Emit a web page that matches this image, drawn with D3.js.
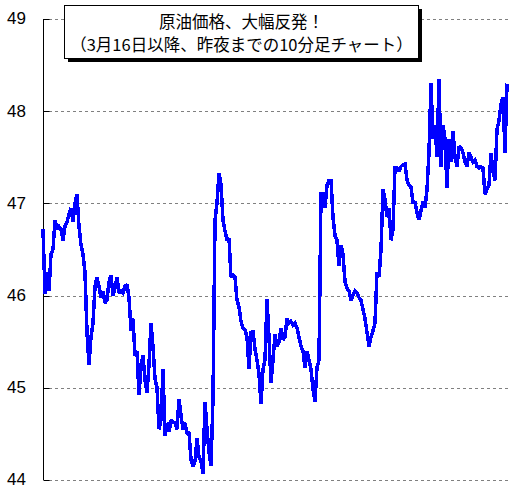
<!DOCTYPE html>
<html>
<head>
<meta charset="utf-8">
<script src="https://cdn.jsdelivr.net/npm/d3@7"></script>
<style>
  html, body { margin: 0; padding: 0; background: #fff; }
  svg { display: block; }
</style>
</head>
<body>
<svg id="chart" width="514" height="500"></svg>
<script>
const titleLines = ["原油価格、大幅反発！", "（3月16日以降、昨夜までの10分足チャート）"];
const yTicks = [44, 45, 46, 47, 48, 49];
const prices = [
  46.72, 46.02, 46.25, 46.05, 46.45, 46.5, 46.82, 46.72, 46.75, 46.72,
  46.6, 46.75, 46.8, 46.88, 46.95, 46.8, 47.0, 47.1, 46.75, 46.55,
  46.45, 46.25, 45.6, 45.25, 45.55, 45.7, 46.1, 46.2, 46.1, 45.98,
  46.05, 45.92, 45.95, 46.15, 46.22, 46.0, 46.08, 46.2, 46.03, 46.05,
  46.03, 46.1, 46.12, 45.98, 45.62, 45.75, 45.35, 45.4, 44.92, 45.25,
  45.35, 45.08, 44.95, 45.25, 45.7, 45.45, 45.1, 45.0, 44.55, 44.65,
  45.2, 44.48, 44.62, 44.52, 44.65, 44.63, 44.62, 44.55, 44.88, 44.7,
  44.55, 44.62, 44.5, 44.52, 44.22, 44.15, 44.2, 44.45, 44.25, 44.2,
  44.07, 44.85, 44.55, 44.3, 44.15, 44.88, 46.82, 47.0, 47.33, 47.2,
  46.82, 46.7, 46.6, 46.62, 46.2, 46.22, 46.2, 45.95, 45.88, 45.72,
  45.65, 45.63, 45.55, 45.2, 45.6, 45.62, 45.42, 45.3, 45.15, 44.82,
  45.2, 45.3, 45.96, 45.55, 45.05, 45.3, 45.58, 45.45, 45.5, 45.65,
  45.52, 45.55, 45.75, 45.7, 45.72, 45.68, 45.7, 45.65, 45.55, 45.45,
  45.4, 45.22, 45.4, 45.3, 45.2, 44.98, 44.85, 45.22, 45.3, 47.1,
  47.1, 46.95, 47.2, 47.25, 47.25, 46.85, 46.65, 46.6, 46.32, 46.55,
  46.45, 46.15, 46.08, 46.05, 45.95, 46.0, 46.05, 46.03, 45.98, 45.95,
  45.85, 45.75, 45.6, 45.45, 45.55, 45.62, 45.7, 46.25, 46.2, 46.5,
  47.15, 47.05, 46.85, 46.95, 46.6, 46.72, 47.4, 47.38, 47.35, 47.4,
  47.42, 47.43, 47.25, 47.2, 47.18, 47.0, 47.02, 46.9, 46.82, 46.92,
  47.02, 46.95, 47.15, 47.55, 48.3, 47.7, 47.85, 47.5, 48.35, 47.4,
  47.85, 47.7, 47.17, 47.7, 47.45, 47.78, 47.5, 47.4, 47.62, 47.6,
  47.55, 47.45, 47.4, 47.55, 47.5, 47.45, 47.47, 47.4, 47.38, 47.4,
  47.38, 47.1, 47.15, 47.2, 47.55, 47.35, 47.25, 47.8, 47.9, 48.08,
  48.15, 47.55, 48.3
];

const svg = d3.select("#chart");
const x = d3.scaleLinear().domain([0, prices.length - 1]).range([43, 507]);
const y = d3.scaleLinear().domain([44, 49]).range([480, 19]);

// grid lines
svg.append("g").selectAll("line").data(yTicks).join("line")
  .attr("x1", 49).attr("x2", 508)
  .attr("y1", d => Math.round(y(d)) + 0.5).attr("y2", d => Math.round(y(d)) + 0.5)
  .attr("stroke", "#808080").attr("stroke-width", 1)
  .attr("stroke-dasharray", "3,3");

// y axis
const axis = d3.axisRight(y).tickValues(yTicks).tickSize(6).tickFormat("");
const ag = svg.append("g").attr("transform", "translate(43.5,0)").call(axis);
ag.select(".domain").attr("stroke", "#000").attr("d", `M0,${y(49)}V${y(44)}`);
ag.selectAll(".tick line").attr("stroke", "#000");
ag.selectAll(".tick").attr("transform", d => `translate(0,${Math.round(y(d)) + 0.5})`);

svg.append("g").selectAll("text").data(yTicks).join("text")
  .attr("x", 26).attr("y", d => y(d) + 1)
  .attr("text-anchor", "end").attr("dominant-baseline", "middle")
  .attr("font-family", "Liberation Sans, Arial, sans-serif")
  .attr("font-size", 17)
  .text(d => d);

// price line
const line = d3.line().x((d, i) => x(i)).y(d => y(d));
svg.append("path").datum(prices)
  .attr("d", line)
  .attr("fill", "none")
  .attr("stroke", "#0000FF")
  .attr("stroke-width", 3.5)
  .attr("stroke-linejoin", "miter")
  .attr("stroke-miterlimit", 2)
  .attr("shape-rendering", "crispEdges");

// title box
const bx = 64, by = 5, bw = 354, bh = 53;
svg.append("rect").attr("x", bx + 4).attr("y", by + 4).attr("width", bw).attr("height", bh).attr("fill", "#000");
svg.append("rect").attr("x", bx + 0.5).attr("y", by + 0.5).attr("width", bw).attr("height", bh)
  .attr("fill", "#fff").attr("stroke", "#000").attr("stroke-width", 1);
svg.append("g").selectAll("text").data(titleLines).join("text")
  .attr("x", bx + bw / 2 + 0.5).attr("y", (d, i) => 28 + i * 23)
  .attr("text-anchor", "middle")
  .attr("font-family", "Noto Sans CJK JP, sans-serif")
  .attr("font-size", 16.5)
  .text(d => d);
</script>
</body>
</html>
